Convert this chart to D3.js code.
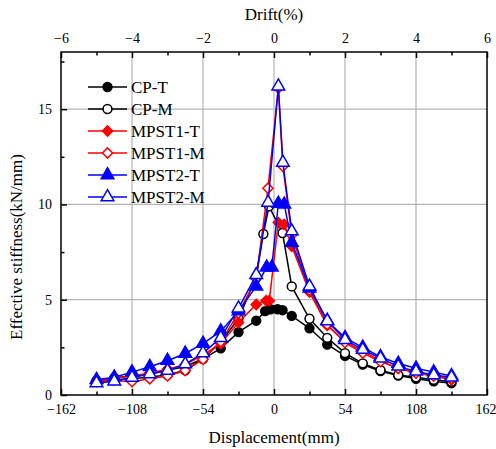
<!DOCTYPE html>
<html><head><meta charset="utf-8">
<script src="https://cdn.jsdelivr.net/npm/d3@7"></script>
<style>
body{margin:0;background:#fff}svg{display:block}
svg text{font-family:'Liberation Serif','DejaVu Serif','Times New Roman',Times,serif !important;}
</style>
</head><body><svg id="c" width="496" height="449"></svg>
<script>
const seriesNames = ["CP-T","CP-M","MPST1-T","MPST1-M","MPST2-T","MPST2-M"];
const seriesColors = ["#000","#000","#ff0000","#ff0000","#0000ff","#0000ff"];
const seriesShapes = ["circle","circle","diamond","diamond","triangle","triangle"];
const seriesFilled = [true,false,true,false,true,false];

const xTicks = [-162,-108,-54,0,54,108,162];
const xMinor = [-135,-81,-27,27,81,135];
const driftTicks = [-6,-4,-2,0,2,4,6];
const driftMinor = [-5,-3,-1,1,3,5];
const yTicks = [0,5,10,15];
const yMinor = [2.5,7.5,12.5,17.5];

const cpT_x = [-135,-121.5,-108,-94.5,-81,-67.5,-54,-40.5,-27,-13.5,-6.75,-2.7,2.7,6.5,13.5,27,40.5,54,67.5,81,94.5,108,121.5,135];
const cpT_y = [0.75,0.9,1.0,1.1,1.3,1.5,1.9,2.45,3.3,3.9,4.4,4.5,4.5,4.45,4.15,3.5,2.65,2.05,1.6,1.25,1.02,0.85,0.72,0.62];
const cpM_x = [-135,-121.5,-108,-94.5,-81,-67.5,-54,-40.5,-27,-13.5,-8.1,-3.8,6.5,13.5,27,40.5,54,67.5,81,94.5,108,121.5,135];
const cpM_y = [0.7,0.8,0.85,0.95,1.05,1.3,1.9,2.8,4.0,6.2,8.45,9.9,8.5,5.7,4.0,3.0,2.2,1.66,1.3,1.05,0.93,0.8,0.7];
const m1T_x = [-135,-121.5,-108,-94.5,-81,-67.5,-54,-40.5,-27,-13.5,-6,-3.6,3.3,7.8,13.5,27,40.5,54,67.5,81,94.5,108,121.5,135];
const m1T_y = [0.72,0.88,1.0,1.15,1.35,1.6,2.1,2.7,3.8,4.75,4.95,4.95,9.05,8.95,7.8,5.4,3.65,2.8,2.3,1.8,1.4,1.2,1.0,0.8];
const m1M_x = [-135,-121.5,-108,-94.5,-81,-67.5,-54,-40.5,-27,-13.5,-4.6,3.3,6.75,13.5,27,40.5,54,67.5,81,94.5,108,121.5,135];
const m1M_y = [0.72,0.78,0.7,0.85,1.0,1.28,1.87,2.8,4.3,6.1,10.85,16.1,12.0,8.4,5.5,3.7,2.75,2.2,1.75,1.4,1.15,1.0,0.85];
const m2T_x = [-135,-121.5,-108,-94.5,-81,-67.5,-54,-40.5,-27,-13.5,-5.6,-1.7,3.3,7.8,13.5,27,40.5,54,67.5,81,94.5,108,121.5,135];
const m2T_y = [0.8,0.93,1.2,1.48,1.8,2.18,2.7,3.35,4.4,5.7,6.7,6.7,10.05,10.0,8.0,5.6,3.9,3.0,2.5,2.0,1.65,1.4,1.2,1.0];
const m2M_x = [-135,-121.5,-108,-94.5,-81,-67.5,-54,-40.5,-27,-13.5,-4.5,3.3,6.75,13.5,27,40.5,54,67.5,81,94.5,108,121.5,135];
const m2M_y = [0.63,0.72,0.92,1.1,1.28,1.62,2.2,3.0,4.55,6.3,10.1,16.2,12.2,8.6,5.7,3.88,2.9,2.38,1.93,1.5,1.24,1.05,0.93];

const allX = [cpT_x,cpM_x,m1T_x,m1M_x,m2T_x,m2M_x];
const allY = [cpT_y,cpM_y,m1T_y,m1M_y,m2T_y,m2M_y];

const L=61, R=487, T=52, B=395;
const svg = d3.select("#c");
const x = d3.scaleLinear().domain([-162,162]).range([L,R]);
const xd = d3.scaleLinear().domain([-6,6]).range([L,R]);
const y = d3.scaleLinear().domain([0,18]).range([B,T]);

// grid
const g = svg.append("g");
g.selectAll("line.vx").data(xTicks.slice(1,-1)).join("line")
  .attr("x1",d=>x(d)).attr("x2",d=>x(d)).attr("y1",T).attr("y2",B)
  .attr("stroke","#b4b4b4").attr("stroke-width",1.2);
g.selectAll("line.hy").data(yTicks.slice(1)).join("line")
  .attr("x1",L).attr("x2",R).attr("y1",d=>y(d)).attr("y2",d=>y(d))
  .attr("stroke","#b4b4b4").attr("stroke-width",1.2);

// series
const sym = {circle:d3.symbolCircle, diamond:d3.symbolSquare, triangle:d3.symbolTriangle};
const sizes = {circle:62, diamond:52, triangle:70};
const rot = {circle:0, diamond:45, triangle:0};
const line = d3.line();
function marker(sel, i){
  const s = seriesShapes[i];
  sel.attr("d",d3.symbol().type(sym[s]).size(sizes[s]))
    .attr("fill",seriesFilled[i]?seriesColors[i]:"#fff")
    .attr("stroke",seriesColors[i]).attr("stroke-width",1.5);
}
seriesNames.forEach((name,i)=>{
  const pts = allX[i].map((v,j)=>[x(v), y(allY[i][j])]);
  svg.append("path").attr("d",line(pts)).attr("fill","none")
    .attr("stroke",seriesColors[i]).attr("stroke-width",1.5);
  svg.append("g").selectAll("path").data(pts).join("path")
    .attr("transform",d=>`translate(${d[0]},${d[1]}) rotate(${rot[seriesShapes[i]]})`)
    .call(marker, i);
});

// frame
svg.append("rect").attr("x",L).attr("y",T).attr("width",R-L).attr("height",B-T)
  .attr("fill","none").attr("stroke","#000").attr("stroke-width",1.5);

// axes
const bAxis = svg.append("g").attr("transform",`translate(0,${B})`)
  .call(d3.axisBottom(x).tickValues(xTicks).tickSizeInner(-6).tickSizeOuter(0).tickPadding(9));
svg.append("g").attr("transform",`translate(0,${B})`)
  .call(d3.axisBottom(x).tickValues(xMinor).tickSizeInner(-3.5).tickSizeOuter(0).tickFormat(""));
svg.append("g").attr("transform",`translate(0,${T})`)
  .call(d3.axisTop(xd).tickValues(driftTicks).tickSizeInner(-6).tickSizeOuter(0).tickPadding(9));
svg.append("g").attr("transform",`translate(0,${T})`)
  .call(d3.axisTop(xd).tickValues(driftMinor).tickSizeInner(-3.5).tickSizeOuter(0).tickFormat(""));
svg.append("g").attr("transform",`translate(${L},0)`)
  .call(d3.axisLeft(y).tickValues(yTicks).tickSizeInner(-6).tickSizeOuter(0).tickPadding(9));
svg.append("g").attr("transform",`translate(${L},0)`)
  .call(d3.axisLeft(y).tickValues(yMinor).tickSizeInner(-3.5).tickSizeOuter(0).tickFormat(""));
svg.selectAll(".domain").remove();
svg.selectAll("g").attr("font-family",null);
svg.selectAll(".tick line").attr("stroke","#000").attr("stroke-width",1.5);
svg.selectAll(".tick text").attr("font-size",14).attr("fill","#000");
// keep the last bottom label inside the window
bAxis.selectAll(".tick text").filter(d=>d===162).attr("text-anchor","end").attr("dx",9);

// titles
svg.append("text").attr("x",274).attr("y",20).attr("text-anchor","middle")
  .attr("font-size",17).text("Drift(%)");
svg.append("text").attr("x",274).attr("y",443).attr("text-anchor","middle")
  .attr("font-size",17).text("Displacement(mm)");
svg.append("text").attr("transform","translate(22,247) rotate(-90)").attr("text-anchor","middle")
  .attr("font-size",17).text("Effective stiffness(kN/mm)");

// legend
const lg = svg.append("g");
seriesNames.forEach((name,i)=>{
  const yy = 87 + i*22;
  lg.append("line").attr("x1",88).attr("x2",127).attr("y1",yy).attr("y2",yy)
    .attr("stroke",seriesColors[i]).attr("stroke-width",1.5);
  lg.append("path").attr("transform",`translate(107.5,${yy}) rotate(${rot[seriesShapes[i]]})`)
    .call(marker, i);
  lg.append("text").attr("x",131).attr("y",yy+6).attr("font-size",17).text(name);
});
</script></body></html>
